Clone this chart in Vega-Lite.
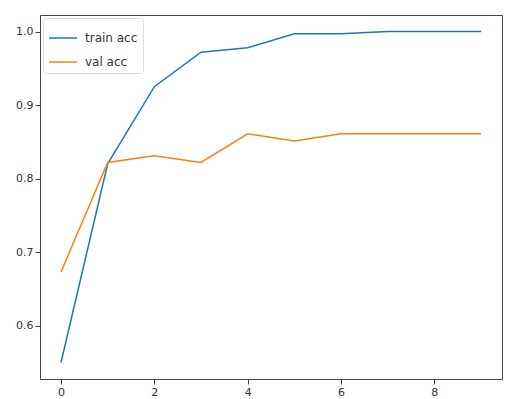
{
  "$schema": "https://vega.github.io/schema/vega-lite/v6.json",
  "width": 462,
  "height": 364,
  "autosize": "none",
  "padding": {"left": 40, "top": 15, "right": 5, "bottom": 20},
  "background": "white",
  "config": {
    "view": {"stroke": "#444", "strokeWidth": 1},
    "font": "DejaVu Sans",
    "axis": {"grid": false, "domain": false, "tickColor": "#444", "tickSize": 5, "labelColor": "#333", "labelFontSize": 11, "labelPadding": 2, "title": null}
  },
  "data": {
    "values": [
      {"epoch": 0, "acc": 0.55, "series": "train acc"},
      {"epoch": 1, "acc": 0.82, "series": "train acc"},
      {"epoch": 2, "acc": 0.925, "series": "train acc"},
      {"epoch": 3, "acc": 0.972, "series": "train acc"},
      {"epoch": 4, "acc": 0.978, "series": "train acc"},
      {"epoch": 5, "acc": 0.997, "series": "train acc"},
      {"epoch": 6, "acc": 0.997, "series": "train acc"},
      {"epoch": 7, "acc": 1.0, "series": "train acc"},
      {"epoch": 8, "acc": 1.0, "series": "train acc"},
      {"epoch": 9, "acc": 1.0, "series": "train acc"},
      {"epoch": 0, "acc": 0.673, "series": "val acc"},
      {"epoch": 1, "acc": 0.822, "series": "val acc"},
      {"epoch": 2, "acc": 0.831, "series": "val acc"},
      {"epoch": 3, "acc": 0.822, "series": "val acc"},
      {"epoch": 4, "acc": 0.861, "series": "val acc"},
      {"epoch": 5, "acc": 0.851, "series": "val acc"},
      {"epoch": 6, "acc": 0.861, "series": "val acc"},
      {"epoch": 7, "acc": 0.861, "series": "val acc"},
      {"epoch": 8, "acc": 0.861, "series": "val acc"},
      {"epoch": 9, "acc": 0.861, "series": "val acc"}
    ]
  },
  "mark": {"type": "line", "strokeWidth": 1.5, "clip": true},
  "encoding": {
    "x": {"field": "epoch", "type": "quantitative", "scale": {"domain": [-0.45, 9.45], "nice": false, "zero": false}, "axis": {"values": [0, 2, 4, 6, 8], "format": "d"}},
    "y": {"field": "acc", "type": "quantitative", "scale": {"domain": [0.5275, 1.0225], "nice": false, "zero": false}, "axis": {"values": [0.6, 0.7, 0.8, 0.9, 1.0], "format": ".1f"}},
    "color": {
      "field": "series", "type": "nominal",
      "scale": {"domain": ["train acc", "val acc"], "range": ["#1f77b4", "#ff7f0e"]},
      "legend": {"title": null, "orient": "none", "legendX": 3, "legendY": 3, "symbolType": "stroke", "symbolSize": 784, "symbolStrokeWidth": 1.5, "labelFontSize": 12, "labelColor": "#333", "labelOffset": 7, "strokeColor": "#ddd", "fillColor": "white", "padding": 5, "rowPadding": 3, "cornerRadius": 3}
    }
  }
}
